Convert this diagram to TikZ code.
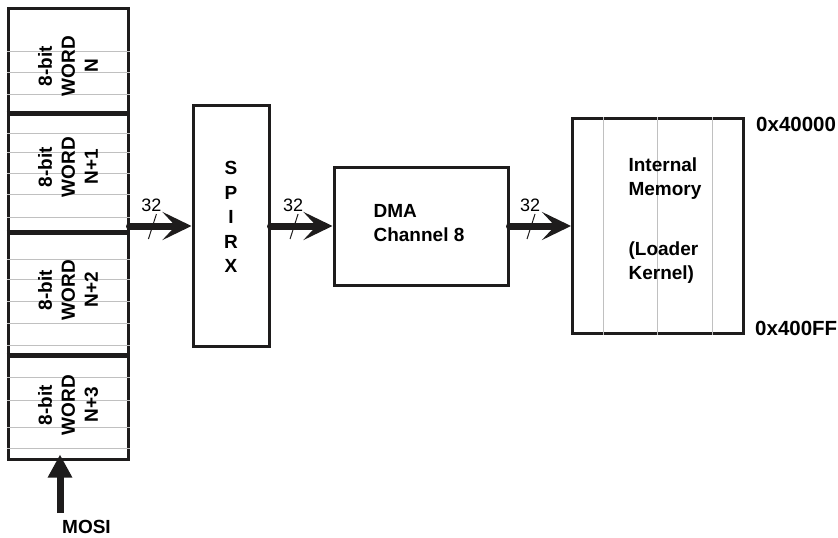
\documentclass[tikz,border=0pt]{standalone}
\usepackage{fontspec}
\setmainfont{Liberation Sans}
\usetikzlibrary{arrows.meta,positioning}
\definecolor{InkBlack}{RGB}{30,28,28}
\definecolor{GridGray}{RGB}{192,192,192}
\tikzset{
  block/.style={draw=InkBlack,line width=3pt,inner sep=0pt},
  boldtext/.style={font=\bfseries\fontsize{19}{24}\selectfont,inner sep=0pt},
  hexlabel/.style={font=\bfseries\fontsize{20.5}{24}\selectfont,inner sep=0pt,anchor=west},
  wordlabel/.style={rotate=90,align=center,inner sep=0pt,font=\bfseries\fontsize{19}{23}\selectfont},
  wordsep/.style={draw=InkBlack,line width=5pt},
  gridline/.style={draw=GridGray,line width=1pt},
  bus/.style={draw=InkBlack,line width=7pt,line cap=round,-{Stealth[length=29pt,width=28pt,inset=13pt]}},
  busslash/.style={draw=InkBlack,line width=1pt},
  buswidth/.style={font=\fontsize{18}{20}\selectfont,inner sep=0pt},
  feed/.style={draw=InkBlack,line width=7pt,-{Triangle[length=23pt,width=23pt]}}
}

\begin{document}
\begin{tikzpicture}[x=1pt,y=-1pt]
\useasboundingbox (0,0) rectangle (838,538);

% receive shift register
\node[block,minimum width=120pt,minimum height=451pt] (shiftreg) at (68,233.5) {};
\foreach \y in {51,72,94,133,152,173,194,217,259,279,301,323,345,377,400,427,448}
  \draw[gridline] (shiftreg.west |- 0,\y) -- (shiftreg.east |- 0,\y);
\foreach \y in {113,232,355}
  \draw[wordsep] (shiftreg.west |- 0,\y) -- (shiftreg.east |- 0,\y);
\node[wordlabel] (word0) at (68,66) {8-bit\\WORD\\N};
\node[wordlabel] (word1) at (68,167) {8-bit\\WORD\\N+1};
\node[wordlabel] (word2) at (68,290) {8-bit\\WORD\\N+2};
\node[wordlabel] (word3) at (68,405) {8-bit\\WORD\\N+3};

% MOSI input
\node[boldtext,anchor=west] (mosi) at (62,527) {MOSI};
\coordinate (mosiin) at (60,513);
\draw[feed] (mosiin) -- ([yshift=6pt]mosiin |- shiftreg.south);

% SPIRX, DMA and memory
\node[block,minimum width=76pt,minimum height=241pt] (spirx) at (231,226) {};
\node[boldtext,align=center,font=\bfseries\fontsize{19}{24.5}\selectfont] (spirxtext) at (231,217) {S\\P\\I\\R\\X};
\node[block,minimum width=174pt,minimum height=118pt] (dma) at (421,226) {};
\node[boldtext,align=left] (dmatext) at (419,223) {DMA\\Channel 8};
\node[block,minimum width=171pt,minimum height=215pt] (mem) at (658,226) {};
\foreach \x in {603,657,712}
  \draw[gridline] (mem.north -| \x,0) -- (mem.south -| \x,0);
\node[boldtext,align=left] (memtext) at (665,221) {Internal\\Memory\\[12pt]\\(Loader\\Kernel)};
\node[hexlabel] (memtop) at (756,124) {0x40000};
\node[hexlabel] (membot) at (755,328) {0x400FF};

% 32-bit buses
\draw[bus] (spirx.west -| shiftreg.east) -- coordinate[pos=0.37] (b1) (spirx.west);
\draw[bus] (spirx.east) -- coordinate[pos=0.38] (b2) (dma.west);
\draw[bus] (dma.east) -- coordinate[pos=0.35] (b3) (mem.west);
\foreach \b in {b1,b2,b3} {
  \draw[busslash] ([shift={(-4,13)}]\b) -- ([shift={(4,-12)}]\b);
  \node[buswidth] (w\b) at ([shift={(-1,-21)}]\b) {32};
}
\end{tikzpicture}
\end{document}
